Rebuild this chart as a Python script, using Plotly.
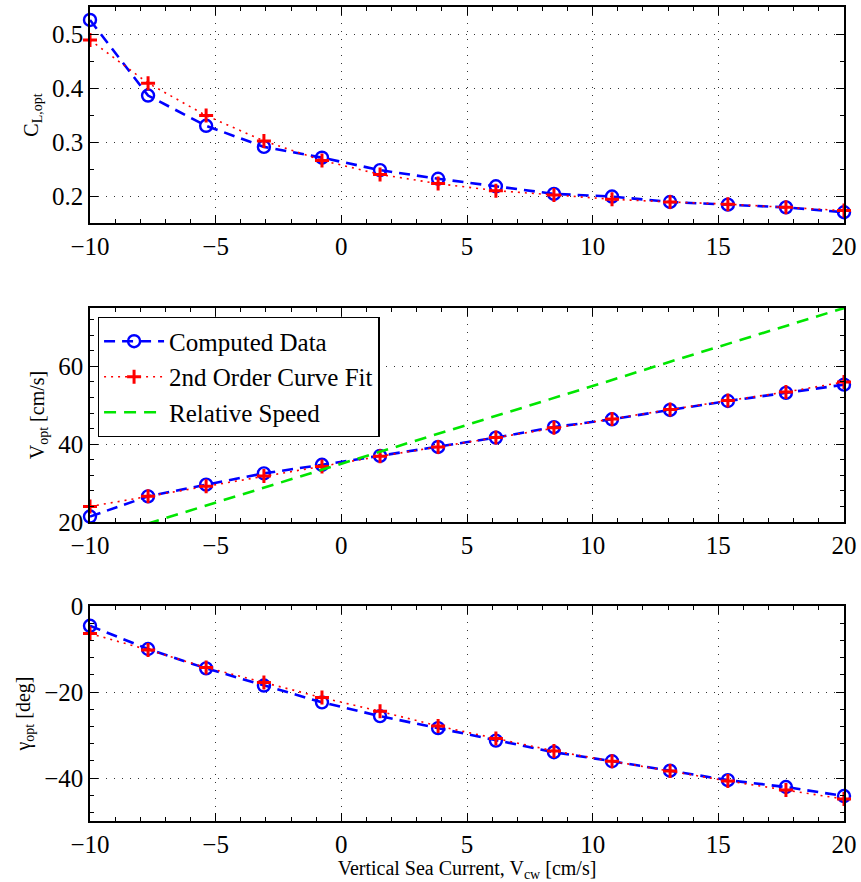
import plotly.graph_objects as go

# ---------------- data ----------------
x_cw = [-10.0, -7.69, -5.38, -3.08, -0.77, 1.54, 3.85, 6.15, 8.46, 10.77, 13.08, 15.38, 17.69, 20.0]

cl_data = [0.526, 0.386, 0.330, 0.291, 0.271, 0.248, 0.232, 0.218, 0.204, 0.199, 0.189, 0.184, 0.179, 0.170]
cl_fit = [0.489, 0.409, 0.349, 0.302, 0.266, 0.240, 0.223, 0.210, 0.202, 0.194, 0.189, 0.185, 0.179, 0.173]

v_data = [21.4, 26.6, 29.6, 32.5, 34.7, 37.0, 39.3, 41.7, 44.4, 46.4, 48.8, 51.1, 53.2, 55.3]
v_fit = [24.0, 26.6, 29.2, 31.8, 34.3, 36.9, 39.3, 41.7, 44.2, 46.5, 48.9, 51.2, 53.4, 56.0]
v_rel = [15.0, 19.6, 24.2, 28.8, 33.5, 38.1, 42.7, 47.3, 51.9, 56.5, 61.2, 65.8, 70.4, 75.0]

g_data = [-4.6, -10.0, -14.5, -18.5, -22.4, -25.6, -28.4, -31.3, -34.0, -36.1, -38.3, -40.5, -42.1, -44.2]
g_fit = [-6.4, -10.2, -14.3, -17.8, -21.3, -24.5, -27.9, -30.8, -33.7, -36.1, -38.4, -40.7, -42.8, -44.9]

x_ticks = [-10, -5, 0, 5, 10, 15, 20]

FONT = "Liberation Serif, Times New Roman, serif"
BLUE = "#0000ff"
RED = "#ff0000"
GREEN = "#00e600"

fig = go.Figure()

panels = [
    (cl_data, cl_fit, None, "", "y"),
    (v_data, v_fit, v_rel, "2", "y2"),
    (g_data, g_fit, None, "3", "y3"),
]

for i, (d, f, rel, sfx, yref) in enumerate(panels):
    show = (i == 1)
    fig.add_trace(go.Scatter(
        x=x_cw, y=d, xaxis="x" + sfx, yaxis=yref, mode="lines+markers",
        name="Computed Data", showlegend=show, cliponaxis=False,
        line=dict(color=BLUE, width=2.6, dash="11px,7px"),
        marker=dict(symbol="circle-open", size=12, color=BLUE, line=dict(width=2.4, color=BLUE)),
    ))
    fig.add_trace(go.Scatter(
        x=x_cw, y=f, xaxis="x" + sfx, yaxis=yref, mode="lines+markers",
        name="2nd Order Curve Fit", showlegend=show, cliponaxis=False,
        line=dict(color=RED, width=1.6, dash="2px,5px"),
        marker=dict(symbol="cross-thin", size=10, color=RED, line=dict(width=3, color=RED)),
    ))
    if rel is not None:
        fig.add_trace(go.Scatter(
            x=x_cw, y=rel, xaxis="x" + sfx, yaxis=yref, mode="lines",
            name="Relative Speed", showlegend=True,
            line=dict(color=GREEN, width=2.6, dash="12px,8px"),
        ))

axis_common = dict(
    showline=True, linecolor="black", linewidth=1.5, mirror="allticks",
    ticks="inside", ticklen=8, tickwidth=1, tickcolor="black",
    showgrid=True, gridcolor="#333333", griddash="1px,7px", gridwidth=1,
    zeroline=False, automargin=False,
    tickfont=dict(family=FONT, size=25, color="black"),
)

doms = [[0.7346, 1.0], [0.3673, 0.6302], [0.0, 0.2641]]
yranges = [[0.15, 0.55], [20, 75], [-50, 0]]
yminor = [0.05, 4, 4]
ytitles = ["C<sub>L,opt</sub>", "V<sub>opt</sub> [cm/s]", "γ<sub>opt</sub> [deg]"]
ytickvals = [[0.2, 0.3, 0.4, 0.5], [20, 40, 60], [-40, -20, 0]]

layout = dict(
    width=861, height=882,
    margin=dict(l=90, r=17, t=7, b=61),
    plot_bgcolor="white", paper_bgcolor="white",
    font=dict(family=FONT, color="black"),
    legend=dict(
        x=0.0103, y=0.619, xanchor="left", yanchor="top",
        bgcolor="white", bordercolor="black", borderwidth=1.3,
        font=dict(family=FONT, size=25, color="black"),
        itemwidth=60, tracegroupgap=0,
    ),
)

for i in range(3):
    sfx = "" if i == 0 else str(i + 1)
    xa = dict(axis_common)
    xa.update(
        domain=[0, 1], range=[-10, 20], tickvals=x_ticks,
        anchor="y" + sfx,
        minor=dict(dtick=1, tick0=0, ticks="inside", ticklen=4, tickcolor="black", showgrid=False),
    )
    if i == 2:
        xa["title"] = dict(text="Vertical Sea Current, V<sub>cw</sub> [cm/s]",
                           font=dict(family=FONT, size=20, color="black"), standoff=2)
    ya = dict(axis_common)
    ya.update(
        domain=doms[i], range=yranges[i], tickvals=ytickvals[i],
        anchor="x" + sfx,
        minor=dict(dtick=yminor[i], tick0=0, ticks="inside", ticklen=4, tickcolor="black", showgrid=False),
        title=dict(text=ytitles[i], font=dict(family=FONT, size=20, color="black"), standoff=8),
    )
    layout["xaxis" + sfx] = xa
    layout["yaxis" + sfx] = ya

fig.update_layout(**layout)
fig.write_html("out.html")
